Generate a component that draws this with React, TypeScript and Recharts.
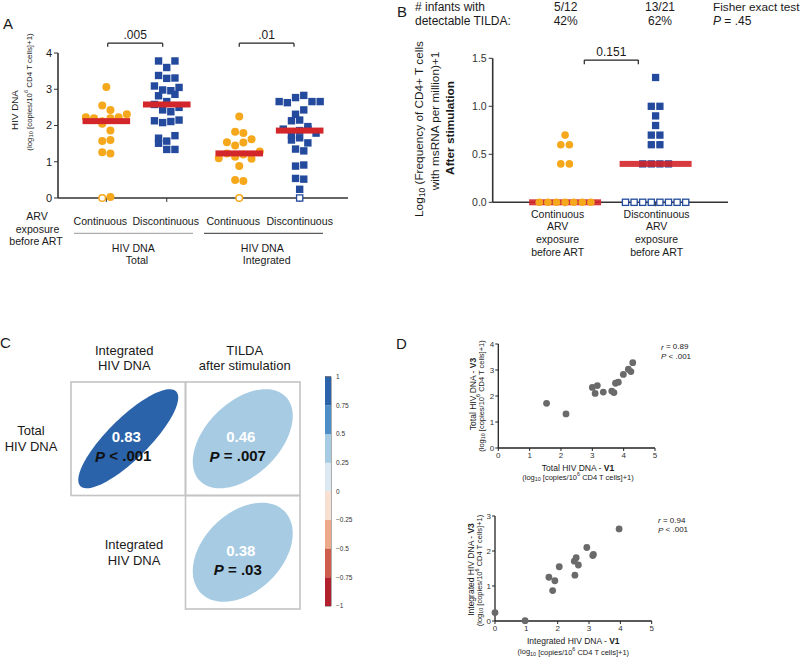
import React from "react";
import {
  ScatterChart,
  Scatter,
  XAxis,
  YAxis,
  ReferenceLine,
  ReferenceArea,
  BarChart,
  Bar,
} from "recharts";

const FONT = "'Liberation Sans', Arial, Helvetica, sans-serif";
const ORANGE = "#f5a81c";
const BLUE = "#234a9c";
const RED = "#d3262a";
const AXIS = "#333";
const INK = "#1a1a1a";

// Panel A: HIV DNA, log10 [copies/10^6 CD4 T cells]+1 (listed in reading order)
const TOTAL_CONT = [3.06, 2.55, 2.43, 2.23, 2.2, 2.12, 2.2, 2.23, 2.31, 2.05, 1.86, 1.57, 1.6, 1.26, 1.23, 0.03];
const TOTAL_CONT_UND = [0];
const TOTAL_DISC = [3.78, 3.6, 3.78, 3.38, 3.3, 3.31, 3.09, 2.98, 2.96, 3.05, 2.82, 2.66, 2.86, 2.58, 2.43, 2.38, 2.5, 2.13, 2.08, 2.11, 2.15, 1.65, 1.51, 1.57, 1.72, 1.34, 1.34];
const INT_CONT = [2.25, 1.83, 1.79, 1.54, 1.45, 1.53, 1.62, 1.1, 1.23, 1.14, 1.2, 1.08, 1.28, 0.88, 0.5, 0.47];
const INT_CONT_UND = [0];
const INT_DISC = [2.66, 2.63, 2.77, 2.83, 2.66, 2.66, 2.31, 2.43, 2.13, 2.15, 1.97, 1.9, 1.74, 1.86, 1.9, 1.79, 1.6, 1.66, 1.52, 1.35, 1.3, 0.88, 0.91, 0.54, 0.52, 0.24];
const INT_DISC_UND = [0];
const A_CATEGORIES = ["Continuous", "Discontinuous", "Continuous", "Discontinuous"];
const A_TICKS = [0, 1, 2, 3, 4];

// Panel B: TILDA after stimulation
const TILDA_CONT = [0.7, 0.6, 0.6, 0.4, 0.4];
const TILDA_CONT_ZERO = [0, 0, 0, 0, 0, 0, 0];
const TILDA_DISC = [1.3, 1.0, 1.0, 0.9, 0.8, 0.7, 0.7, 0.6, 0.6, 0.4, 0.4, 0.4, 0.4];
const TILDA_DISC_ZERO = [0, 0, 0, 0, 0, 0, 0, 0];
const B_CATEGORIES = [
  ["Continuous", "ARV", "exposure", "before ART"],
  ["Discontinuous", "ARV", "exposure", "before ART"],
];
const B_TICKS = [0, 0.5, 1, 1.5];

// Panel C: correlation matrix
const CORR_ROW_LABELS = [["Total", "HIV DNA"], ["Integrated", "HIV DNA"]];
const CORR_COL_LABELS = [["Integrated", "HIV DNA"], ["TILDA", "after stimulation"]];
const CORR_R = [0.83, 0.46, 0.38];
const CORR_P = ["< .001", "= .007", "= .03"];
const CORR_ROW = [0, 0, 1];
const CORR_COL = [0, 1, 1];
const CBAR_TICKS = [-1, -0.75, -0.5, -0.25, 0, 0.25, 0.5, 0.75, 1];
const CBAR_COLORS = ["#b2202e", "#cf5d4c", "#eeaa88", "#f7e0d2", "#dce9f2", "#a6cbe3", "#4d8ec6", "#2a63a9"];

// Panel D: V1 vs V3
const D_TOTAL_V1 = [1.54, 2.16, 3.0, 3.09, 3.16, 3.35, 3.62, 3.69, 3.74, 3.83, 3.99, 4.15, 4.23, 4.29];
const D_TOTAL_V3 = [1.72, 1.31, 2.33, 2.1, 2.4, 2.15, 2.19, 2.13, 2.49, 2.53, 2.83, 3.03, 2.94, 3.28];
const D_INT_V1 = [0, 0.96, 1.72, 1.91, 1.84, 2.05, 2.55, 2.53, 2.59, 2.66, 2.93, 3.12, 3.14, 3.96];
const D_INT_V3 = [0.24, 0.01, 1.25, 1.15, 0.87, 1.55, 1.31, 1.71, 1.81, 1.6, 2.1, 1.87, 1.9, 2.63];
const D_X_TICKS = [0, 1, 2, 3, 4, 5];

function median(vals: number[]) {
  const s = [...vals].sort((a, b) => a - b);
  const n = s.length;
  return n % 2 ? s[(n - 1) / 2] : (s[n / 2 - 1] + s[n / 2]) / 2;
}

// simple row-wise beeswarm (values close together share a row)
function swarm(filled: number[], open: number[], center: number, binH: number, step: number) {
  const pts = [...open.map(v => ({ v, open: true })), ...filled.map(v => ({ v, open: false }))].map((p, i) => ({ ...p, i }));
  const sorted = [...pts].sort((a, b) => b.v - a.v || a.i - b.i);
  const rows: any[][] = [];
  let cur: any[] = [];
  let top: number | null = null;
  for (const p of sorted) {
    if (top === null || top - p.v < binH - 1e-9) {
      cur.push(p);
      if (top === null) top = p.v;
    } else {
      rows.push(cur);
      cur = [p];
      top = p.v;
    }
  }
  if (cur.length) rows.push(cur);
  const out: { x: number; y: number; open: boolean }[] = [];
  rows.forEach(row => {
    row.sort((a, b) => a.i - b.i);
    row.forEach((p, k) => out.push({ x: center + (k - (row.length - 1) / 2) * step, y: p.v, open: p.open }));
  });
  return out;
}

const dot = (r: number, fill: string) => (p: any) => <circle cx={p.cx} cy={p.cy} r={r} fill={fill} />;
const ring = (r: number, color: string) => (p: any) => (
  <circle cx={p.cx} cy={p.cy} r={r} fill="#fff" stroke={color} strokeWidth={1.5} />
);
const square = (s: number, fill: string) => (p: any) => (
  <rect x={p.cx - s / 2} y={p.cy - s / 2} width={s} height={s} fill={fill} />
);
const openSquare = (s: number, color: string) => (p: any) => (
  <rect x={p.cx - s / 2} y={p.cy - s / 2} width={s} height={s} fill="#fff" stroke={color} strokeWidth={1.3} />
);
const medianBar = (w: number, opacity = 1) => (p: any) => (
  <rect x={p.cx - w / 2} y={p.cy - 3} width={w} height={6} fill={RED} fillOpacity={opacity} />
);

function bracket(key: string, x1: number, x2: number, y: number, yEnd: number, text: string) {
  const line = { stroke: "#222", strokeWidth: 1.2, ifOverflow: "visible" as const };
  return [
    <ReferenceLine key={key + "h"} segment={[{ x: x1, y }, { x: x2, y }]} {...line}
      label={{ value: text, position: "top", fontSize: 12, fill: INK, offset: 4 }} />,
    <ReferenceLine key={key + "l"} segment={[{ x: x1, y }, { x: x1, y: yEnd }]} {...line} />,
    <ReferenceLine key={key + "r"} segment={[{ x: x2, y }, { x: x2, y: yEnd }]} {...line} />,
  ];
}

// ---------- Panel A ----------
const A_CENTERS = [0.8, 1.8, 3.0, 4.0];
const A_STEP = 8.2 / (290 / 4.8);
const A_LABEL_DX = [-6, -1, -6, 0];

function ACatTick(p: any) {
  const i = A_CENTERS.indexOf(p.payload.value);
  return (
    <text x={p.x + A_LABEL_DX[i]} y={221} textAnchor="middle" dominantBaseline="central" fontSize={10.6} fill={INK}>
      {A_CATEGORIES[i]}
    </text>
  );
}

function PanelA() {
  const g = [
    swarm(TOTAL_CONT, TOTAL_CONT_UND, A_CENTERS[0], 0.21, A_STEP),
    swarm(TOTAL_DISC, [], A_CENTERS[1], 0.21, A_STEP),
    swarm(INT_CONT, INT_CONT_UND, A_CENTERS[2], 0.21, A_STEP),
    swarm(INT_DISC, INT_DISC_UND, A_CENTERS[3], 0.21, A_STEP),
  ];
  const orange = [...g[0], ...g[2]];
  const blue = [...g[1], ...g[3]];
  const medians = [
    { x: A_CENTERS[0], y: median([...TOTAL_CONT, ...TOTAL_CONT_UND]) },
    { x: A_CENTERS[1], y: median(TOTAL_DISC) },
    { x: A_CENTERS[2], y: median([...INT_CONT, ...INT_CONT_UND]) },
    { x: A_CENTERS[3], y: median([...INT_DISC, ...INT_DISC_UND]) },
  ];
  return (
    <div style={{ position: "absolute", left: 0, top: 0 }}>
      <ScatterChart width={360} height={290} margin={{ top: 53, right: 12, bottom: 0, left: 0 }}>
        <XAxis type="number" dataKey="x" domain={[0, 4.8]} ticks={A_CENTERS} interval={0} height={92}
          tick={<ACatTick />} tickSize={4} axisLine={{ stroke: AXIS, strokeWidth: 1.6 }} tickLine={{ stroke: AXIS }} />
        <YAxis type="number" dataKey="y" domain={[0, 4]} ticks={A_TICKS} interval={0} width={58}
          tickSize={4} tickMargin={2} axisLine={{ stroke: AXIS, strokeWidth: 1.6 }} tickLine={{ stroke: AXIS }}
          tick={{ fontSize: 11, fill: INK }} />
        <Scatter data={orange.filter(p => !p.open)} shape={dot(4, ORANGE)} isAnimationActive={false} />
        <Scatter data={orange.filter(p => p.open)} shape={ring(3.3, ORANGE)} isAnimationActive={false} />
        <Scatter data={blue.filter(p => !p.open)} shape={square(7.4, BLUE)} isAnimationActive={false} />
        <Scatter data={blue.filter(p => p.open)} shape={openSquare(6.2, BLUE)} isAnimationActive={false} />
        <Scatter data={medians} shape={medianBar(47.6)} isAnimationActive={false} />
        {bracket("a1", 0.823, 1.733, 4.27, 4.17, ".005")}
        {bracket("a2", 3.0, 3.906, 4.27, 4.17, ".01")}
      </ScatterChart>
    </div>
  );
}

// ---------- Panel B ----------
const B_CENTERS = [0.8, 1.8];
const B_STEP = 8.6 / (235.3 / 2.6);
const B_LABEL_DX = [-7.5, 1];

function BCatTick(p: any) {
  const i = B_CENTERS.indexOf(p.payload.value);
  return (
    <g>
      {B_CATEGORIES[i].map((s, k) => (
        <text key={k} x={p.x + B_LABEL_DX[i]} y={213.5 + k * 12.8} textAnchor="middle" dominantBaseline="central"
          fontSize={10.5} fill={INK}>{s}</text>
      ))}
    </g>
  );
}

function PanelB() {
  const cont = swarm(TILDA_CONT, TILDA_CONT_ZERO, B_CENTERS[0], 0.08, B_STEP);
  const disc = swarm(TILDA_DISC, TILDA_DISC_ZERO, B_CENTERS[1], 0.08, B_STEP);
  const medians = [
    { x: B_CENTERS[0], y: median([...TILDA_CONT, ...TILDA_CONT_ZERO]) },
    { x: B_CENTERS[1], y: median([...TILDA_DISC, ...TILDA_DISC_ZERO]) },
  ];
  return (
    <div style={{ position: "absolute", left: 420, top: 0 }}>
      <ScatterChart width={320} height={290} margin={{ top: 58.3, right: 12, bottom: 0, left: 0 }}>
        <XAxis type="number" dataKey="x" domain={[0, 2.6]} ticks={B_CENTERS} interval={0} height={87.7}
          tick={<BCatTick />} tickSize={4} axisLine={{ stroke: AXIS, strokeWidth: 1.6 }} tickLine={{ stroke: AXIS }} />
        <YAxis type="number" dataKey="y" domain={[0, 1.5]} ticks={B_TICKS} interval={0} width={72.7}
          tickSize={4} tickMargin={2} axisLine={{ stroke: AXIS, strokeWidth: 1.6 }} tickLine={{ stroke: AXIS }}
          tick={{ fontSize: 10.5, fill: "#333" }} tickFormatter={(v: number) => v.toFixed(1)} />
        <Scatter data={disc.filter(p => !p.open)} shape={square(7.3, BLUE)} isAnimationActive={false} />
        <Scatter data={disc.filter(p => p.open)} shape={openSquare(6.2, BLUE)} isAnimationActive={false} />
        <Scatter data={medians} shape={medianBar(72, 0.9)} isAnimationActive={false} />
        <Scatter data={cont} shape={dot(3.8, ORANGE)} isAnimationActive={false} />
        {bracket("b1", 1.012, 1.609, 1.482, 1.437, "0.151")}
      </ScatterChart>
    </div>
  );
}

// ---------- Panel C ----------
const C_CELL_W = 229 / 2;
const C_CELL_H = 227 / 2;

function corrColor(r: number) {
  return CBAR_COLORS[Math.min(7, Math.floor((r + 1) / 0.25))];
}

function CorrCell(p: any) {
  const { cx, cy, payload } = p;
  const d = Math.acos(payload.r);
  const sx = (C_CELL_W / 2) * 0.873;
  const sy = (C_CELL_H / 2) * 0.873;
  let path = "";
  for (let i = 0; i <= 120; i++) {
    const t = (i / 120) * Math.PI * 2;
    const px = cx + sx * Math.cos(t + d / 2);
    const py = cy - sy * Math.cos(t - d / 2);
    path += (i ? "L" : "M") + px.toFixed(2) + " " + py.toFixed(2);
  }
  return (
    <g>
      <rect x={cx - C_CELL_W / 2} y={cy - C_CELL_H / 2} width={C_CELL_W} height={C_CELL_H}
        fill="none" stroke="#c4c4c4" strokeWidth={1.6} />
      <path d={path + "Z"} fill={corrColor(payload.r)} />
      <text x={cx - 2} y={cy - 2} textAnchor="middle" dominantBaseline="central" fill="#fff"
        fontWeight="bold" fontSize={15}>{payload.r.toFixed(2)}</text>
      <text x={cx - 5} y={cy + 17} textAnchor="middle" dominantBaseline="central" fill="#111"
        fontWeight="bold" fontSize={15}>
        <tspan fontStyle="italic">P</tspan> {payload.p}
      </text>
    </g>
  );
}

function ColTick(p: any) {
  const lines = CORR_COL_LABELS[p.payload.value < 1 ? 0 : 1];
  return (
    <g>
      {lines.map((s, k) => (
        <text key={k} x={p.x + (p.payload.value < 1 ? -4 : 2)} y={20.7 + k * 15} textAnchor="middle"
          dominantBaseline="central" fontSize={13} fill={INK}>{s}</text>
      ))}
    </g>
  );
}

function RowTick(p: any) {
  const row = p.payload.value > 1 ? 0 : 1;
  const cx = row === 0 ? 31 : 134;
  return (
    <g>
      {CORR_ROW_LABELS[row].map((s, k) => (
        <text key={k} x={cx} y={p.y - 8 + k * 16} textAnchor="middle" dominantBaseline="central"
          fontSize={13} fill={INK}>{s}</text>
      ))}
    </g>
  );
}

function PanelC() {
  const cells = CORR_R.map((r, i) => ({ x: CORR_COL[i] + 0.5, y: 1.5 - CORR_ROW[i], r, p: CORR_P[i] }));
  return (
    <div style={{ position: "absolute", left: 0, top: 330 }}>
      <ScatterChart width={310} height={290} margin={{ top: 0, right: 10, bottom: 11, left: 0 }}>
        <XAxis orientation="top" type="number" dataKey="x" domain={[0, 2]} ticks={[0.5, 1.5]} interval={0}
          height={52} axisLine={false} tickLine={false} tick={<ColTick />} />
        <YAxis type="number" dataKey="y" domain={[0, 2]} ticks={[0.5, 1.5]} interval={0} width={71}
          axisLine={false} tickLine={false} tick={<RowTick />} />
        <Scatter data={cells} shape={CorrCell} isAnimationActive={false} />
      </ScatterChart>
    </div>
  );
}

function ColorBar() {
  const row: any = { k: "cbar" };
  const pos = [0, 1, 2, 3].map(i => "p" + i);
  const neg = [0, 1, 2, 3].map(i => "n" + i);
  pos.forEach(k => (row[k] = 0.25));
  neg.forEach(k => (row[k] = -0.25));
  const fmt = (v: number) => (v < 0 ? "\u2212" + Math.abs(v) : String(v));
  return (
    <div style={{ position: "absolute", left: 325, top: 370 }}>
      <BarChart width={40} height={240} data={[row]} margin={{ top: 6.7, right: 0, bottom: 4, left: 0 }}
        stackOffset="sign" barCategoryGap={0} barGap={0}>
        <XAxis dataKey="k" hide />
        <YAxis type="number" orientation="right" domain={[-1, 1]} ticks={CBAR_TICKS} interval={0} width={34}
          allowDataOverflow axisLine={false} tickLine={false} tickSize={2} tickMargin={3}
          tick={{ fontSize: 6.5, fill: "#333" }} tickFormatter={fmt} />
        {pos.map((k, i) => (
          <Bar key={k} dataKey={k} stackId="c" fill={CBAR_COLORS[4 + i]} isAnimationActive={false} />
        ))}
        {neg.map((k, i) => (
          <Bar key={k} dataKey={k} stackId="c" fill={CBAR_COLORS[3 - i]} isAnimationActive={false} />
        ))}
        <ReferenceArea y1={-1} y2={1} fill="none" stroke="#333" strokeWidth={0.8} ifOverflow="visible" />
      </BarChart>
    </div>
  );
}

// ---------- Panel D ----------
function DPlot(props: any) {
  const { left, top, width, height, margin, yWidth, xHeight, xs, ys, yTicks } = props;
  const data = xs.map((x: number, i: number) => ({ x, y: ys[i] }));
  const axisLine = { stroke: "#222", strokeWidth: 1.3 };
  return (
    <div style={{ position: "absolute", left, top }}>
      <ScatterChart width={width} height={height} margin={margin}>
        <XAxis type="number" dataKey="x" domain={[0, 5]} ticks={D_X_TICKS} interval={0} height={xHeight}
          tickSize={3} tickMargin={1} axisLine={axisLine} tickLine={{ stroke: "#222" }} tick={{ fontSize: 8, fill: "#333" }} />
        <YAxis type="number" dataKey="y" domain={[0, yTicks[yTicks.length - 1]]} ticks={yTicks} interval={0}
          width={yWidth} tickSize={3} tickMargin={1} axisLine={axisLine} tickLine={{ stroke: "#222" }}
          tick={{ fontSize: 8, fill: "#333" }} />
        <Scatter data={data} shape={dot(3.4, "#6a6a6a")} isAnimationActive={false} />
      </ScatterChart>
    </div>
  );
}

function PanelD() {
  return (
    <>
      <DPlot left={480} top={330} width={185} height={140} margin={{ top: 14, right: 10, bottom: 0, left: 0 }}
        yWidth={18.3} xHeight={22} xs={D_TOTAL_V1} ys={D_TOTAL_V3} yTicks={[0, 1, 2, 3, 4]} />
      <DPlot left={480} top={500} width={185} height={145} margin={{ top: 16, right: 13.3, bottom: 0, left: 0 }}
        yWidth={15} xHeight={24} xs={D_INT_V1} ys={D_INT_V3} yTicks={[0, 1, 2, 3]} />
    </>
  );
}

// ---------- text overlay ----------
function T({ x, y, size = 10.6, anchor = "middle", weight, rotate, fill = INK, children }: any) {
  return (
    <text x={x} y={y} fontSize={size} textAnchor={anchor} fontWeight={weight} fill={fill}
      dominantBaseline="central" transform={rotate ? `rotate(${rotate} ${x} ${y})` : undefined}>
      {children}
    </text>
  );
}

function LogUnits({ size }: { size: number }) {
  const s = size * 0.72;
  return (
    <>
      (log<tspan dy={size * 0.25} fontSize={s}>10</tspan>
      <tspan dy={-size * 0.25}> [copies/10</tspan>
      <tspan dy={-size * 0.35} fontSize={s}>6</tspan>
      <tspan dy={size * 0.35}> CD4 T cells]+1)</tspan>
    </>
  );
}

function Overlay() {
  return (
    <svg width={800} height={661} style={{ position: "absolute", left: 0, top: 0, pointerEvents: "none" }}>
      {/* panel letters */}
      <T x={3} y={23.5} size={15} anchor="start">A</T>
      <T x={397} y={11.5} size={15} anchor="start">B</T>
      <T x={0} y={342} size={15} anchor="start">C</T>
      <T x={396} y={343} size={15} anchor="start">D</T>

      {/* panel A */}
      <T x={14} y={110} size={9.8} rotate={-90}>HIV DNA</T>
      <T x={29} y={92} size={7.9} rotate={-90}><LogUnits size={7.9} /></T>
      <T x={37} y={216}>ARV</T>
      <T x={37.5} y={228.5}>exposure</T>
      <T x={36} y={240.5}>before ART</T>
      <line x1={74} x2={193} y1={233.3} y2={233.3} stroke="#999" strokeWidth={1} />
      <line x1={204} x2={323} y1={233.3} y2={233.3} stroke="#333" strokeWidth={1} />
      <T x={133.3} y={248}>HIV DNA</T>
      <T x={137} y={259.5}>Total</T>
      <T x={262.3} y={248}>HIV DNA</T>
      <T x={266.7} y={259.5}>Integrated</T>

      {/* panel B */}
      <T x={415} y={7} size={12} anchor="start"># infants with</T>
      <T x={415} y={21} size={12} anchor="start">detectable TILDA:</T>
      <T x={565.7} y={7} size={12}>5/12</T>
      <T x={565.7} y={21} size={12}>42%</T>
      <T x={660} y={7} size={12}>13/21</T>
      <T x={660} y={21} size={12}>62%</T>
      <T x={713} y={7} size={11.8} anchor="start">Fisher exact test</T>
      <T x={713} y={21} size={12} anchor="start"><tspan fontStyle="italic">P</tspan> = .45</T>
      <T x={419} y={129} size={11.8} rotate={-90}>
        Log<tspan dy={3} fontSize={8.5}>10</tspan><tspan dy={-3}> (Frequency of CD4+ T cells</tspan>
      </T>
      <T x={434.5} y={121} size={11.8} rotate={-90}>with msRNA per million)+1</T>
      <T x={450} y={128} size={11.8} weight="bold" rotate={-90}>After stimulation</T>

      {/* panel D */}
      <T x={661} y={346.5} size={8} anchor="start"><tspan fontStyle="italic">r</tspan> = 0.89</T>
      <T x={661} y={356} size={8} anchor="start"><tspan fontStyle="italic">P</tspan> &lt; .001</T>
      <T x={472.5} y={394} size={8.5} rotate={-90}>Total HIV DNA - <tspan fontWeight="bold">V3</tspan></T>
      <T x={481} y={396} size={7.5} rotate={-90}><LogUnits size={7.5} /></T>
      <T x={578} y={467.7} size={8.5}>Total HIV DNA - <tspan fontWeight="bold">V1</tspan></T>
      <T x={578} y={477} size={7.5}><LogUnits size={7.5} /></T>

      <T x={658} y={520} size={8} anchor="start"><tspan fontStyle="italic">r</tspan> = 0.94</T>
      <T x={658} y={529.5} size={8} anchor="start"><tspan fontStyle="italic">P</tspan> &lt; .001</T>
      <T x={470.7} y={569.5} size={8.5} rotate={-90}>Integrated HIV DNA - <tspan fontWeight="bold">V3</tspan></T>
      <T x={479.3} y={570.5} size={7.5} rotate={-90}><LogUnits size={7.5} /></T>
      <T x={573.3} y={640.7} size={8.5}>Integrated HIV DNA - <tspan fontWeight="bold">V1</tspan></T>
      <T x={573.3} y={651.7} size={7.5}><LogUnits size={7.5} /></T>
    </svg>
  );
}

export default function App() {
  return (
    <div style={{ position: "absolute", left: 0, top: 0, width: 800, height: 661, background: "#fff", fontFamily: FONT, overflow: "hidden" }}>
      <PanelA />
      <PanelB />
      <PanelC />
      <ColorBar />
      <PanelD />
      <Overlay />
    </div>
  );
}
